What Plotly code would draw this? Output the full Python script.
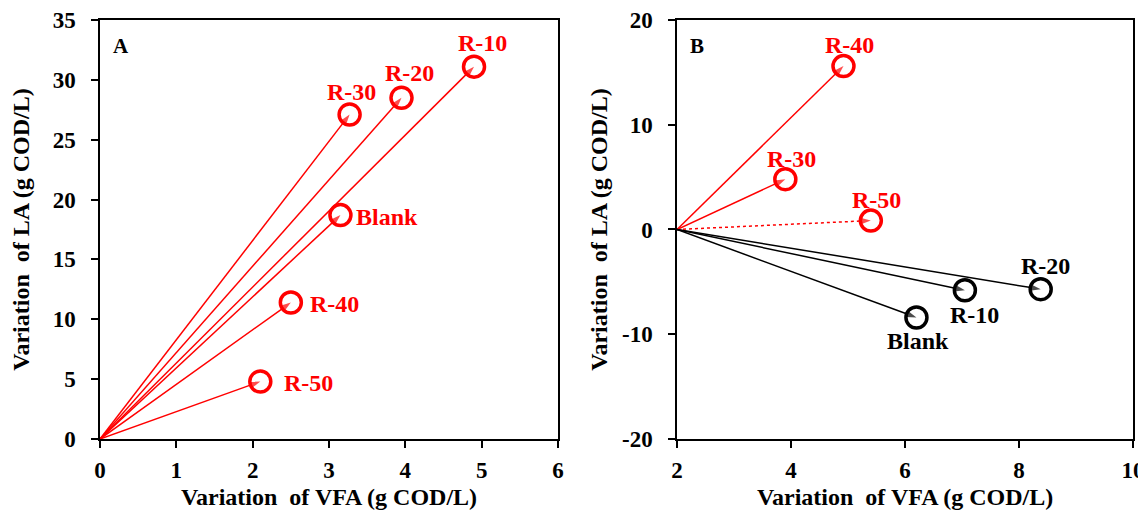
import plotly.graph_objects as go

# Panel A data
a_labels = ["R-10", "R-20", "R-30", "Blank", "R-40", "R-50"]
a_vfa = [4.9, 3.95, 3.27, 3.15, 2.5, 2.1]
a_la = [31.1, 28.5, 27.1, 18.7, 11.4, 4.8]
a_colors = ["red", "red", "red", "red", "red", "red"]
a_dash = ["solid"] * 6
a_xticks = [0, 1, 2, 3, 4, 5, 6]
a_yticks = [0, 5, 10, 15, 20, 25, 30, 35]

# Panel B data
b_origin = (2, 0)
b_labels = ["R-40", "R-30", "R-50", "R-20", "R-10", "Blank"]
b_vfa = [4.92, 3.9, 5.4, 8.38, 7.05, 6.2]
b_la = [15.6, 4.8, 0.85, -5.7, -5.8, -8.4]
b_colors = ["red", "red", "red", "black", "black", "black"]
b_dash = ["solid", "solid", "dot", "solid", "solid", "solid"]
b_xticks = [2, 4, 6, 8, 10]
b_yticks = [-20, -10, 0, 10, 20]

# label placement (pixel shifts from circle centre) -- style only
a_shift = [(8, 24), (8, 25), (2, 23), (47, -2), (44, -1), (48, -1)]
b_shift = [(6, 21), (6, 20), (6, 21), (5, 23), (10, -25), (2, -24)]

FONT = "Liberation Serif"

fig = go.Figure()

def add_panel(xs, ys, labels, colors, dashes, shifts, origin, xa, ya):
    for xv, yv, c, d in zip(xs, ys, colors, dashes):
        fig.add_trace(go.Scatter(
            x=[origin[0], xv], y=[origin[1], yv], mode="lines+markers",
            line=dict(color=c, width=1.5, dash=d),
            marker=dict(symbol=["circle", "arrow"], size=[0, 11], angleref="previous",
                        color=c, line=dict(width=0)),
            xaxis=xa, yaxis=ya, showlegend=False, hoverinfo="skip"))
    fig.add_trace(go.Scatter(
        x=xs, y=ys, mode="markers",
        marker=dict(symbol="circle-open", size=21, color=colors, line=dict(width=3.5, color=colors)),
        xaxis=xa, yaxis=ya, showlegend=False))
    for xv, yv, lab, c, (dx, dy) in zip(xs, ys, labels, colors, shifts):
        fig.add_annotation(x=xv, y=yv, xref=xa, yref=ya, text=f"<b>{lab}</b>", showarrow=False,
                           xshift=dx, yshift=dy, xanchor="center", yanchor="middle",
                           font=dict(family=FONT, size=24, color=c))

add_panel(a_vfa, a_la, a_labels, a_colors, a_dash, a_shift, (0, 0), "x", "y")
add_panel(b_vfa, b_la, b_labels, b_colors, b_dash, b_shift, b_origin, "x2", "y2")

axis_common = dict(showline=True, linecolor="black", linewidth=1.5, mirror=True,
                   ticks="outside", ticklen=7, tickcolor="black", tickwidth=1.5,
                   showgrid=False, zeroline=False, automargin=False,
                   ticklabeloverflow="allow",
                   tickfont=dict(family=FONT, size=23, color="black"))
title_font = dict(family=FONT, size=24, color="black")
xtitle = "<b>Variation  of VFA (g COD/L)</b>"
ytitle = "<b>Variation  of LA (g COD/L)</b>"

def ticks(vals):
    return dict(tickmode="array", tickvals=vals, ticktext=[f"<b>{v}</b>" for v in vals])

yd = [0.1582, 0.9766]
fig.update_layout(
    width=1146, height=512, margin=dict(l=0, r=0, t=0, b=0, autoexpand=False),
    plot_bgcolor="white", paper_bgcolor="white",
    xaxis=dict(domain=[0.0803, 0.4799], range=[0, 6], anchor="y", ticklabelstandoff=3,
               title=dict(text=xtitle, font=title_font, standoff=6),
               **ticks(a_xticks), **axis_common),
    yaxis=dict(domain=yd, range=[0, 35], anchor="x", ticklabelstandoff=11,
               title=dict(text=ytitle, font=title_font, standoff=16),
               **ticks(a_yticks), **axis_common),
    xaxis2=dict(domain=[0.5838, 0.9817], range=[2, 10], anchor="y2", ticklabelstandoff=3,
                title=dict(text=xtitle, font=title_font, standoff=6),
                **ticks(b_xticks), **axis_common),
    yaxis2=dict(domain=yd, range=[-20, 20], anchor="x2", ticklabelstandoff=11,
                title=dict(text=ytitle, font=title_font, standoff=8),
                **ticks(b_yticks), **axis_common),
)

for xr, yr, txt in [("x domain", "y domain", "A"), ("x2 domain", "y2 domain", "B")]:
    fig.add_annotation(x=0.025, y=0.937, xref=xr, yref=yr,
                       text=f"<b>{txt}</b>", showarrow=False, xanchor="left", yanchor="middle",
                       font=dict(family=FONT, size=21, color="black"))

fig.write_html("out.html")
